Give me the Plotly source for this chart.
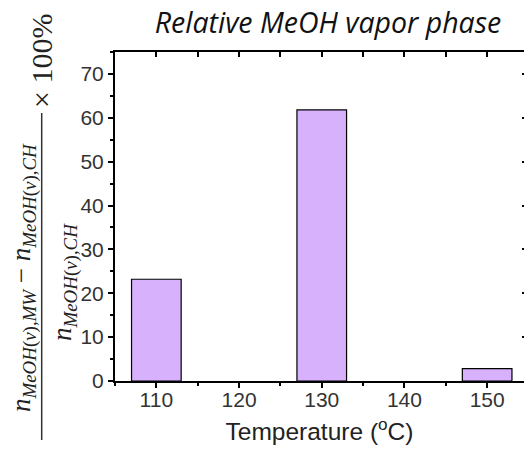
import plotly.graph_objects as go

# Data
temperatures = [110, 130, 150]
relative_vapor = [23.2, 61.8, 2.8]
x_ticks = [110, 120, 130, 140, 150]
y_ticks = [0, 10, 20, 30, 40, 50, 60, 70]

# Figure / plot-area geometry (pixels)
W, H = 524, 450
L, R, T, B = 115, 0, 52, 69
pw, ph = W - L - R, H - T - B


def px_x(px):
    return (px - L) / pw


def px_y(py):
    return (H - B - py) / ph


bar_color = "#D8B1FD"
tick_font = dict(family="Liberation Sans, Arial, sans-serif", size=21, color="#333333")
math_font = dict(family="Liberation Serif, Times New Roman, serif", size=27, color="#222222")

fig = go.Figure()
fig.add_trace(go.Bar(
    x=temperatures, y=relative_vapor, width=6,
    marker=dict(color=bar_color, line=dict(color="black", width=1.2)),
    showlegend=False, hoverinfo="x+y",
))
# carrier for the mirrored top/right axes
fig.add_trace(go.Scatter(
    x=temperatures, y=relative_vapor, xaxis="x2", yaxis="y2",
    mode="markers", marker=dict(opacity=0), showlegend=False, hoverinfo="skip",
))

xr = [105, 105 + 10 * pw / 82.7]
yr = [0, 75]

fig.update_layout(
    width=W, height=H,
    margin=dict(l=L, r=R, t=T, b=B, pad=0),
    plot_bgcolor="white", paper_bgcolor="white",
    title=dict(
        text="<i>Relative MeOH vapor phase</i>",
        font=dict(family="Open Sans, Lato, sans-serif", size=28.5, color="#111111"),
        x=328 / W, xanchor="center", y=1 - 23 / H, yanchor="middle",
    ),
    xaxis=dict(
        range=xr, tickvals=x_ticks, ticks="outside", ticklen=5, tickwidth=2,
        tickcolor="black", showline=True, linecolor="black", linewidth=2,
        showgrid=False, zeroline=False, tickfont=tick_font, ticklabelstandoff=-6,
        minor=dict(dtick=5, tick0=105, ticks="outside", ticklen=3, tickwidth=2, tickcolor="black"),
        title=dict(text="Temperature (<sup>o</sup>C)",
                   font=dict(family="Liberation Sans, Arial, sans-serif", size=24.5, color="#222222"),
                   standoff=13),
    ),
    yaxis=dict(
        range=yr, tickvals=y_ticks, ticks="outside", ticklen=5, tickwidth=2,
        tickcolor="black", showline=True, linecolor="black", linewidth=2,
        showgrid=False, zeroline=False, tickfont=tick_font,
        minor=dict(dtick=5, tick0=0, ticks="outside", ticklen=3, tickwidth=2, tickcolor="black"),
    ),
    xaxis2=dict(
        overlaying="x", side="top", anchor="y2", range=xr, tickvals=x_ticks,
        ticks="inside", ticklen=5, tickwidth=2, tickcolor="black",
        showline=True, linecolor="black", linewidth=2, showgrid=False,
        zeroline=False, showticklabels=False,
        minor=dict(dtick=5, tick0=105, ticks="inside", ticklen=5, tickwidth=2, tickcolor="black"),
    ),
    yaxis2=dict(
        overlaying="y", side="right", anchor="x2", range=yr, tickvals=y_ticks[1:],
        ticks="inside", ticklen=2, tickwidth=2, tickcolor="black",
        showline=False, showgrid=False, zeroline=False, showticklabels=False,
    ),
)

# Y-axis label: (n_MW - n_CH) / n_CH x 100%
numerator = ("<i>n</i><sub><i>MeOH</i>(<i>v</i>),<i>MW</i></sub> − "
             "<i>n</i><sub><i>MeOH</i>(<i>v</i>),<i>CH</i></sub>")
denominator = "<i>n</i><sub><i>MeOH</i>(<i>v</i>),<i>CH</i></sub>"

fig.add_annotation(text=numerator, xref="paper", yref="paper",
                   x=px_x(23), y=px_y(278), xanchor="center", yanchor="middle",
                   textangle=-90, showarrow=False, font=math_font)
fig.add_annotation(text=denominator, xref="paper", yref="paper",
                   x=px_x(64), y=px_y(282), xanchor="center", yanchor="middle",
                   textangle=-90, showarrow=False, font=math_font)
fig.add_annotation(text="× 100%", xref="paper", yref="paper",
                   x=px_x(42), y=px_y(61), xanchor="center", yanchor="middle",
                   textangle=-90, showarrow=False,
                   font=dict(family="Liberation Serif, Times New Roman, serif", size=30, color="#222222"))
fig.add_shape(type="line", xref="paper", yref="paper",
              x0=px_x(41.7), x1=px_x(41.7), y0=px_y(440), y1=px_y(113),
              line=dict(color="#333333", width=1.5))

fig.write_html("out.html")
